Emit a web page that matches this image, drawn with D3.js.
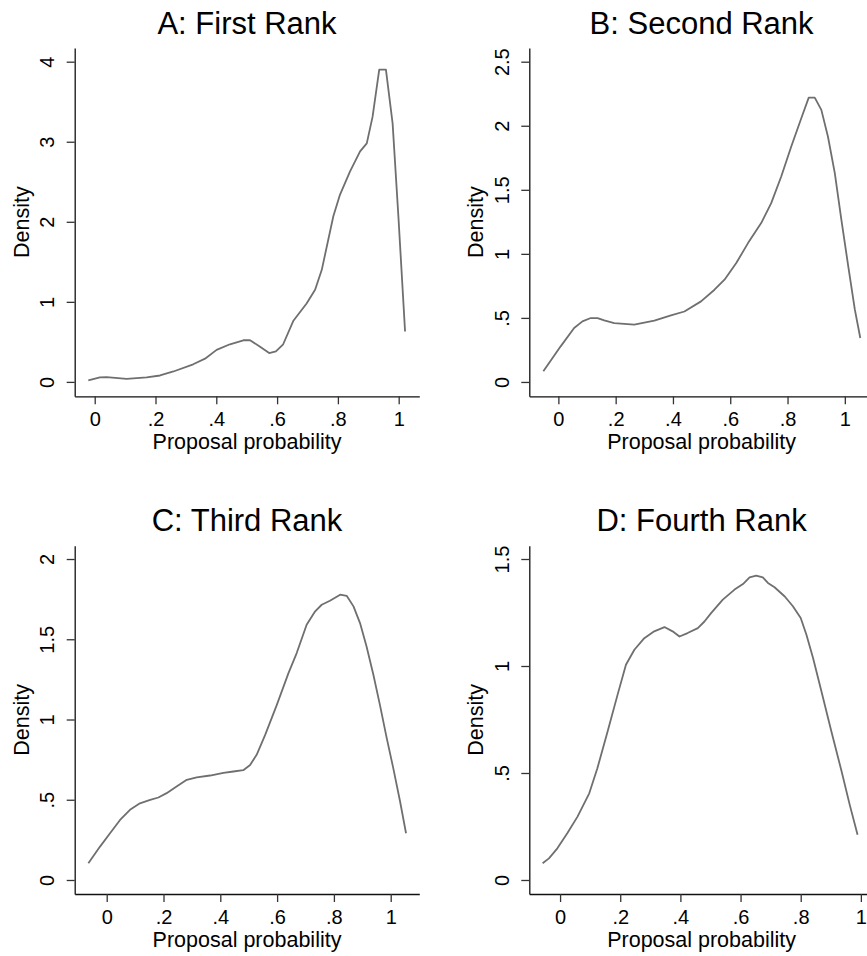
<!DOCTYPE html>
<html>
<head>
<meta charset="utf-8">
<script src="https://cdn.jsdelivr.net/npm/d3@7"></script>
<style>
  html, body { margin: 0; padding: 0; background: #fff; }
  svg { display: block; }
  text { font-family: "Liberation Sans", Arial, sans-serif; fill: #000; }
</style>
</head>
<body>
<svg id="chart" width="867" height="956"></svg>
<script>
// Kernel density estimates of proposal probability, one per rank
const panelTitles = ["A: First Rank", "B: Second Rank", "C: Third Rank", "D: Fourth Rank"];

const firstRank = [
  [-0.021, 0.02], [0.017, 0.057], [0.039, 0.06], [0.105, 0.037], [0.171, 0.057],
  [0.215, 0.08], [0.259, 0.13], [0.324, 0.22], [0.363, 0.29], [0.401, 0.40],
  [0.445, 0.47], [0.489, 0.52], [0.511, 0.52], [0.544, 0.44], [0.574, 0.36],
  [0.596, 0.38], [0.62, 0.47], [0.653, 0.76], [0.697, 0.98], [0.725, 1.15],
  [0.747, 1.40], [0.785, 2.07], [0.807, 2.34], [0.84, 2.63], [0.873, 2.88],
  [0.895, 2.98], [0.914, 3.31], [0.936, 3.90], [0.958, 3.90], [0.980, 3.23],
  [0.999, 2.07], [1.021, 0.63]
];

const secondRank = [
  [-0.0525, 0.083], [0.008, 0.278], [0.055, 0.421], [0.084, 0.473], [0.113, 0.499],
  [0.137, 0.499], [0.16, 0.48], [0.195, 0.46], [0.265, 0.447], [0.335, 0.478],
  [0.393, 0.52], [0.44, 0.55], [0.498, 0.629], [0.545, 0.72], [0.58, 0.798],
  [0.621, 0.928], [0.662, 1.084], [0.708, 1.24], [0.743, 1.396], [0.778, 1.604],
  [0.813, 1.838], [0.848, 2.059], [0.874, 2.22], [0.895, 2.22], [0.918, 2.124],
  [0.941, 1.916], [0.965, 1.63], [0.988, 1.266], [1.012, 0.902], [1.035, 0.564],
  [1.054, 0.343]
];

const thirdRank = [
  [-0.0646, 0.104], [-0.0235, 0.208], [0.0117, 0.291], [0.047, 0.374], [0.082, 0.437],
  [0.117, 0.478], [0.153, 0.499], [0.182, 0.514], [0.211, 0.541], [0.246, 0.582],
  [0.282, 0.624], [0.317, 0.640], [0.364, 0.651], [0.411, 0.667], [0.446, 0.676],
  [0.481, 0.684], [0.505, 0.717], [0.528, 0.780], [0.558, 0.904], [0.599, 1.091],
  [0.640, 1.289], [0.669, 1.414], [0.704, 1.590], [0.734, 1.674], [0.757, 1.715],
  [0.786, 1.740], [0.822, 1.778], [0.845, 1.771], [0.869, 1.705], [0.892, 1.601],
  [0.915, 1.455], [0.939, 1.279], [0.962, 1.091], [0.986, 0.884], [1.009, 0.697],
  [1.033, 0.489], [1.054, 0.291]
];

const fourthRank = [
  [-0.058, 0.078], [-0.037, 0.101], [-0.009, 0.148], [0.024, 0.218], [0.058, 0.296],
  [0.097, 0.405], [0.124, 0.522], [0.158, 0.694], [0.191, 0.865], [0.219, 1.006],
  [0.247, 1.076], [0.28, 1.13], [0.313, 1.162], [0.347, 1.182], [0.374, 1.162],
  [0.397, 1.138], [0.424, 1.154], [0.458, 1.177], [0.48, 1.208], [0.502, 1.247],
  [0.541, 1.310], [0.58, 1.357], [0.608, 1.383], [0.63, 1.414], [0.652, 1.422],
  [0.674, 1.414], [0.691, 1.388], [0.713, 1.368], [0.747, 1.325], [0.774, 1.279],
  [0.8, 1.224], [0.819, 1.146], [0.841, 1.037], [0.869, 0.881], [0.902, 0.694],
  [0.936, 0.507], [0.963, 0.351], [0.989, 0.211]
];

const xTicks = [0, 0.2, 0.4, 0.6, 0.8, 1];
const yTicksA = [0, 1, 2, 3, 4];
const yTicksB = [0, 0.5, 1, 1.5, 2, 2.5];
const yTicksC = [0, 0.5, 1, 1.5, 2];
const yTicksD = [0, 0.5, 1, 1.5];

// Axis extents of each plot region
const xDomains = [[-0.0658, 1.0678], [-0.1015, 1.1015], [-0.1127, 1.1007], [-0.1023, 1.0433]];
const yDomains = [[-0.18, 4.171], [-0.112, 2.607], [-0.0873, 2.083], [-0.0655, 1.5622]];

const xTitle = "Proposal probability";
const yTitle = "Density";

// Stata-style labels: drop the leading zero (".2", ".5")
const fmt = v => String(+v.toFixed(2)).replace(/^0\./, ".");

const panels = [
  { title: panelTitles[0], data: firstRank,  yTicks: yTicksA, left: 74.7,  top: 48 },
  { title: panelTitles[1], data: secondRank, yTicks: yTicksB, left: 529.3, top: 48 },
  { title: panelTitles[2], data: thirdRank,  yTicks: yTicksC, left: 74.7,  top: 545.7 },
  { title: panelTitles[3], data: fourthRank, yTicks: yTicksD, left: 529.3, top: 545.7 }
];

const plotW = 344.6, plotH = 348.3;
const svg = d3.select("#chart");

panels.forEach((p, i) => {
  const g = svg.append("g").attr("transform", `translate(${p.left},${p.top})`);
  const x = d3.scaleLinear().domain(xDomains[i]).range([0, plotW]);
  const y = d3.scaleLinear().domain(yDomains[i]).range([plotH, 0]);

  // density curve
  g.append("path")
    .datum(p.data)
    .attr("fill", "none")
    .attr("stroke", "#6f6f6f")
    .attr("stroke-width", 1.8)
    .attr("stroke-linejoin", "round")
    .attr("d", d3.line().x(d => x(d[0])).y(d => y(d[1])));

  // x axis
  const gx = g.append("g")
    .attr("transform", `translate(0,${plotH})`)
    .call(d3.axisBottom(x).tickValues(xTicks).tickFormat(fmt).tickSize(8).tickSizeOuter(0));
  gx.selectAll("text").attr("y", 30).attr("dy", 0).style("font-size", "20px");

  // y axis with rotated tick labels
  const gy = g.append("g")
    .call(d3.axisLeft(y).tickValues(p.yTicks).tickFormat(fmt).tickSize(8).tickSizeOuter(0));
  gy.selectAll("text")
    .attr("transform", "rotate(-90)")
    .attr("text-anchor", "middle")
    .attr("x", 0).attr("y", -20.5).attr("dy", 0)
    .style("font-size", "20px");

  [gx, gy].forEach(a => {
    a.select(".domain").attr("stroke", "#111").attr("stroke-width", 1.3);
    a.selectAll(".tick line").attr("stroke", "#333").attr("stroke-width", 1.3);
  });

  // titles
  g.append("text")
    .attr("x", plotW / 2).attr("y", -14.5)
    .attr("text-anchor", "middle")
    .style("font-size", "31px")
    .text(p.title);

  g.append("text")
    .attr("x", plotW / 2).attr("y", plotH + 53)
    .attr("text-anchor", "middle")
    .style("font-size", "21.5px")
    .text(xTitle);

  g.append("text")
    .attr("transform", `translate(-46,${plotH / 2}) rotate(-90)`)
    .attr("text-anchor", "middle")
    .style("font-size", "21.5px")
    .text(yTitle);
});
</script>
</body>
</html>
